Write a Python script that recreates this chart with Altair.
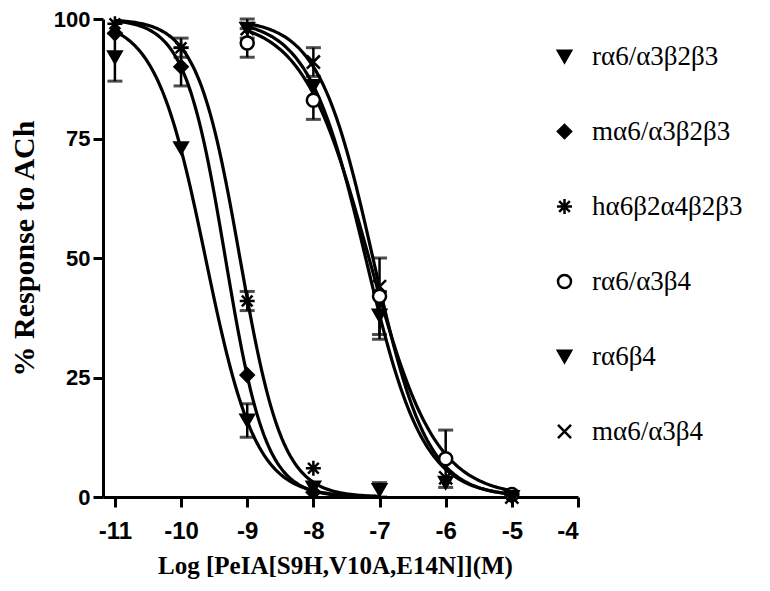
import altair as alt
import numpy as np
import pandas as pd

SERIES = ["rα6/α3β2β3", "mα6/α3β2β3", "hα6β2α4β2β3", "rα6/α3β4", "rα6β4", "mα6/α3β4"]

# measured points (log M, % response, SEM)
PTS_X = {
    "rα6/α3β2β3": [-11, -10, -9, -8, -7],
    "mα6/α3β2β3": [-11, -10, -9, -8],
    "hα6β2α4β2β3": [-11, -10, -9, -8],
    "rα6/α3β4": [-9, -8, -7, -6, -5],
    "rα6β4": [-9, -8, -7, -6, -5],
    "mα6/α3β4": [-9, -8, -7, -6, -5],
}
PTS_Y = {
    "rα6/α3β2β3": [92, 73, 16, 2, 1.5],
    "mα6/α3β2β3": [97, 90, 25.5, 1],
    "hα6β2α4β2β3": [99, 94, 41, 6],
    "rα6/α3β4": [95, 83, 42, 8, 0.5],
    "rα6β4": [98, 86, 38, 3, 0],
    "mα6/α3β4": [98, 91, 44, 4, 0],
}
PTS_ERR = {
    "rα6/α3β2β3": [5, 0, 3.5, 0, 1.5],
    "mα6/α3β2β3": [0, 4, 0, 0],
    "hα6β2α4β2β3": [0, 2, 2, 0],
    "rα6/α3β4": [3, 4, 8, 6, 0],
    "rα6β4": [2, 0, 5, 0, 0],
    "mα6/α3β4": [0, 3, 0, 0, 0],
}

# fitted curve parameters
LOG_IC50 = [-9.63, -9.33, -9.11, -7.16, -7.21, -7.10]
HILL = [1.15, 1.42, 1.35, 0.87, 1.00, 1.06]
CURVE_FROM = [-11, -11, -11, -9, -9, -9]
CURVE_TO = [-7, -7, -7, -5, -5, -5]

SHAPES = [
    "triangle-down",
    "diamond",
    "M0,-1.15L0,1.15M-1.15,0L1.15,0M-0.82,-0.82L0.82,0.82M-0.82,0.82L0.82,-0.82",
    "circle",
    "triangle-down",
    "M-1,-1L1,1M1,-1L-1,1",
]
FILLS = ["black", "black", "black", "white", "black", "black"]
STROKES = ["black"] * 6

X_TICKS = [-11, -10, -9, -8, -7, -6, -5, -4]
Y_TICKS = [0, 25, 50, 75, 100]

pts_rows = []
for s in SERIES:
    for x, y, e in zip(PTS_X[s], PTS_Y[s], PTS_ERR[s]):
        pts_rows.append({"series": s, "x": x, "y": y, "lo": y - e, "hi": y + e, "err": e})
pts = pd.DataFrame(pts_rows)
errs = pts[pts["err"] > 0]

curve_rows = []
for s, ic, h, a, b in zip(SERIES, LOG_IC50, HILL, CURVE_FROM, CURVE_TO):
    for x in np.linspace(a, b, 120):
        curve_rows.append({"series": s, "x": float(x), "y": 100.0 / (1 + 10 ** ((x - ic) * h))})
curves = pd.DataFrame(curve_rows)

xs = alt.Scale(domain=[-11.18, -4], nice=False, zero=False)
ys = alt.Scale(domain=[0, 100], nice=False)

xenc = alt.X("x:Q", scale=xs, axis=alt.Axis(
    values=X_TICKS, title="Log [PeIA[S9H,V10A,E14N]](M)",
    labelExpr="'' + datum.value", labelFontSize=24, labelPadding=12,
    titleX=232, titleY=68, titleAnchor="start", titleAlign="center", titleBaseline="middle",
    titleFont="Liberation Serif", titleFontSize=25, titleFontWeight="bold",
))
yenc = alt.Y("y:Q", scale=ys, axis=alt.Axis(
    values=Y_TICKS, title="% Response to ACh",
    titleX=-79, titleY=229, titleAngle=270, titleAlign="center", titleBaseline="middle",
    titleFont="Liberation Serif", titleFontSize=30, titleFontWeight="bold",
))

lines = alt.Chart(curves).mark_line(color="black", strokeWidth=3.2).encode(
    x=xenc, y=yenc, detail="series:N"
)

rules = alt.Chart(errs).mark_rule(color="black", strokeWidth=2.5).encode(
    x=alt.X("x:Q", scale=xs), y=alt.Y("lo:Q", scale=ys), y2="hi:Q"
)
cap_lo = alt.Chart(errs).mark_tick(color="black", thickness=3, size=15, orient="horizontal").encode(
    x=alt.X("x:Q", scale=xs), y=alt.Y("lo:Q", scale=ys)
)
cap_hi = alt.Chart(errs).mark_tick(color="black", thickness=3, size=15, orient="horizontal").encode(
    x=alt.X("x:Q", scale=xs), y=alt.Y("hi:Q", scale=ys)
)

points = alt.Chart(pts).mark_point(filled=False, strokeWidth=2.5, opacity=1, size=170).encode(
    x=alt.X("x:Q", scale=xs),
    y=alt.Y("y:Q", scale=ys),
    shape=alt.Shape("series:N", scale=alt.Scale(domain=SERIES, range=SHAPES), sort=SERIES,
                    legend=alt.Legend(title=None)),
    fill=alt.Fill("series:N", scale=alt.Scale(domain=SERIES, range=FILLS), sort=SERIES,
                  legend=alt.Legend(title=None)),
    stroke=alt.Stroke("series:N", scale=alt.Scale(domain=SERIES, range=STROKES), sort=SERIES,
                      legend=alt.Legend(title=None)),
)

chart = alt.layer(lines, rules, cap_lo, cap_hi, points).properties(
    width=475, height=478,
    autosize=alt.AutoSizeParams(type="none"),
    padding={"left": 95, "top": 11, "right": 184, "bottom": 86},
).configure_view(stroke=None).configure_axis(
    domainColor="black", domainWidth=3, tickColor="black", tickWidth=3, tickSize=10,
    labelColor="black", labelFont="Liberation Sans Narrow, Liberation Sans, Arial",
    labelFontSize=22, labelFontWeight="bold",
    labelPadding=3, grid=False, titleColor="black",
).configure_legend(
    orient="none", legendX=448, legendY=24, direction="vertical",
    labelFont="Liberation Serif", labelFontSize=27, labelColor="black", labelOffset=14,
    symbolSize=170, symbolStrokeWidth=2.5,
    rowPadding=47, labelLimit=400,
)

chart.save("out.html", embed_options={"renderer": "svg", "actions": False})
